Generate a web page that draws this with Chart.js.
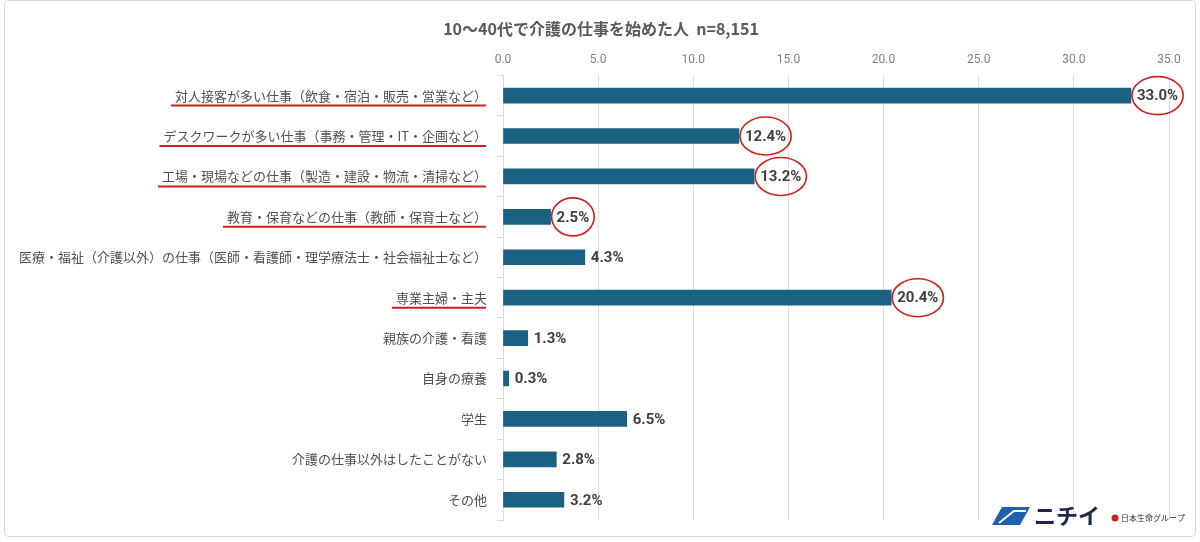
<!DOCTYPE html>
<html>
<head>
<meta charset="utf-8">
<script src="https://cdn.jsdelivr.net/npm/chart.js@4"></script>
<style>
  html, body { margin: 0; padding: 0; background: #fff; }
  #wrap { position: relative; width: 1200px; height: 542px; }
</style>
</head>
<body>
<div id="wrap"><canvas id="careerChart" width="1200" height="542"></canvas></div>
<script>
const chartTitle = '10～40代で介護の仕事を始めた人  n=8,151';
const categories = [
    '対人接客が多い仕事（飲食・宿泊・販売・営業など）',
    'デスクワークが多い仕事（事務・管理・IT・企画など）',
    '工場・現場などの仕事（製造・建設・物流・清掃など）',
    '教育・保育などの仕事（教師・保育士など）',
    '医療・福祉（介護以外）の仕事（医師・看護師・理学療法士・社会福祉士など）',
    '専業主婦・主夫',
    '親族の介護・看護',
    '自身の療養',
    '学生',
    '介護の仕事以外はしたことがない',
    'その他'
];
const percentValues = [33.0, 12.4, 13.2, 2.5, 4.3, 20.4, 1.3, 0.3, 6.5, 2.8, 3.2];
const highlighted = [0, 1, 2, 3, 5];
const xTicks = [0, 5, 10, 15, 20, 25, 30, 35];

const FONT_JP = '"Noto Sans CJK JP", "Noto Sans", sans-serif';
const RED = '#d41e1e';

// value labels, red underlines/circles, title, logo and frame
const annotatePlugin = {
    id: 'annotate',
    afterDatasetsDraw(chart) {
        const ctx = chart.ctx;
        const meta = chart.getDatasetMeta(0);
        const yScale = chart.scales.y;
        ctx.save();

        // title, centred on the whole picture
        ctx.fillStyle = '#595959';
        ctx.font = 'bold 16px ' + FONT_JP;
        ctx.textAlign = 'center';
        ctx.textBaseline = 'middle';
        ctx.fillText(chartTitle, 601, 29);

        ctx.font = 'bold 15px Roboto, "Liberation Sans", sans-serif';
        ctx.textAlign = 'left';
        meta.data.forEach(function (bar, i) {
            const text = percentValues[i].toFixed(1) + '%';
            const x = bar.x + 6;
            const w = ctx.measureText(text).width;
            ctx.fillStyle = '#404040';
            ctx.fillText(text, x, bar.y + 1);
            if (highlighted.includes(i)) {
                ctx.strokeStyle = RED;
                ctx.lineWidth = 1.6;
                ctx.beginPath();
                ctx.ellipse(x + w / 2, bar.y, w / 2 + 5, 19, 0, 0, Math.PI * 2);
                ctx.stroke();
            }
        });

        // underline highlighted category labels
        ctx.font = '13px ' + FONT_JP;
        highlighted.forEach(function (i) {
            const y = yScale.getPixelForValue(i) + 10;
            const right = yScale.right - 18;
            const w = ctx.measureText(categories[i]).width;
            ctx.strokeStyle = RED;
            ctx.lineWidth = 2;
            ctx.beginPath();
            ctx.moveTo(right - w - 2, y);
            ctx.lineTo(right + 1, y);
            ctx.stroke();
        });

        // logo
        ctx.fillStyle = '#1f5fb0';
        ctx.beginPath();
        ctx.moveTo(992, 525); ctx.lineTo(1002, 507); ctx.lineTo(1030, 507); ctx.lineTo(1020, 525);
        ctx.closePath();
        ctx.fill();
        ctx.strokeStyle = '#ffffff';
        ctx.lineWidth = 2;
        ctx.beginPath();
        ctx.moveTo(999, 523); ctx.lineTo(1014, 511); ctx.lineTo(1026, 511);
        ctx.stroke();
        ctx.fillStyle = '#1b2a4a';
        ctx.font = 'bold 22px ' + FONT_JP;
        ctx.fillText('ニチイ', 1034, 516);
        ctx.fillStyle = '#d0201c';
        ctx.beginPath();
        ctx.arc(1115, 518, 3.5, 0, Math.PI * 2);
        ctx.fill();
        ctx.fillStyle = '#333';
        ctx.font = '8px ' + FONT_JP;
        ctx.fillText('日本生命グループ', 1121, 518);

        // outer frame
        ctx.strokeStyle = '#d6d6d6';
        ctx.lineWidth = 1;
        ctx.beginPath();
        ctx.roundRect(4.5, 0.5, 1191, 536, 4);
        ctx.stroke();
        ctx.restore();
    }
};

new Chart(document.getElementById('careerChart').getContext('2d'), {
    type: 'bar',
    data: {
        labels: categories,
        datasets: [{
            data: percentValues,
            backgroundColor: '#1a6182',
            borderWidth: 0,
            barThickness: 15
        }]
    },
    options: {
        indexAxis: 'y',
        responsive: false,
        animation: false,
        layout: { padding: { left: 8, right: 31, top: 45, bottom: 22 } },
        plugins: {
            legend: { display: false },
            tooltip: { enabled: false },
            title: { display: false }
        },
        scales: {
            x: {
                position: 'top',
                min: 0,
                max: 35,
                afterBuildTicks: function (scale) {
                    scale.ticks = xTicks.map(function (v) { return { value: v }; });
                },
                ticks: {
                    color: '#7f7f7f',
                    font: { family: 'Roboto, sans-serif', size: 12 },
                    padding: 8,
                    callback: function (v) { return Number(v).toFixed(1); }
                },
                grid: { color: '#dcdcdc', drawTicks: false },
                border: { display: false }
            },
            y: {
                afterFit: function (scale) { scale.width = 495; },
                ticks: {
                    color: '#505050',
                    font: { family: FONT_JP, size: 13 },
                    padding: 10
                },
                grid: {
                    offset: true,
                    drawOnChartArea: false,
                    drawTicks: true,
                    tickLength: 6,
                    color: '#d9d9d9'
                },
                border: { display: true, color: '#d9d9d9' }
            }
        }
    },
    plugins: [annotatePlugin]
});
</script>
</body>
</html>
